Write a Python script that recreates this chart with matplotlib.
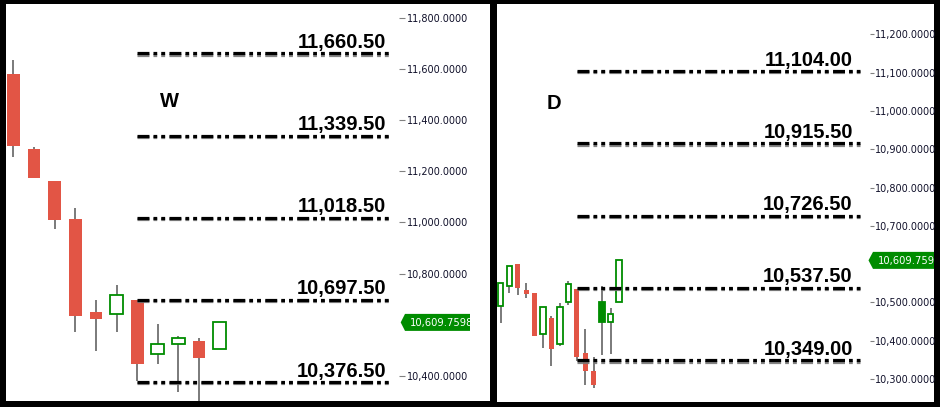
import matplotlib
matplotlib.use("Agg")
import matplotlib.pyplot as plt
from matplotlib.patches import Rectangle, Polygon
import matplotlib.patheffects as pe
import matplotlib.transforms as mtransforms

# ---------------- data ----------------
W_open  = [11580, 11287, 11162, 11014, 10650, 10641, 10697, 10485, 10524, 10537, 10505]
W_high  = [11635, 11295, 11162, 11057, 10697, 10756, 10697, 10604, 10557, 10548, 10610]
W_low   = [11255, 11175, 10976, 10573, 10499, 10573, 10380, 10448, 10339, 10290, 10505]
W_close = [11300, 11175, 11011, 10636, 10624, 10716, 10448, 10525, 10548, 10472, 10609.76]
W_solid = []

D_open  = [10490, 10542, 10600, 10532, 10525, 10418, 10459, 10391, 10500, 10535, 10368, 10321, 10450, 10448, 10500]
D_high  = [10550, 10594, 10600, 10551, 10525, 10487, 10464, 10498, 10556, 10535, 10430, 10357, 10544, 10485, 10610]
D_low   = [10447, 10525, 10520, 10512, 10413, 10382, 10335, 10386, 10493, 10348, 10285, 10277, 10363, 10366, 10500]
D_close = [10550, 10594, 10538, 10523, 10413, 10487, 10379, 10487, 10547, 10358, 10322, 10285, 10501, 10469, 10609.76]
D_solid = [12]

W_levels = [11660.50, 11339.50, 11018.50, 10697.50, 10376.50]
D_levels = [11104.00, 10915.50, 10726.50, 10537.50, 10349.00]
W_level_start = 6
D_level_start = 9

W_ticks = [10400, 10800, 11000, 11200, 11400, 11600, 11800]
D_ticks = [10300, 10400, 10500, 10700, 10800, 10900, 11000, 11100, 11200]

current_price = 10609.7598
W_title = "W"
D_title = "D"

# ---------------- style ----------------
RED = "#E25545"
GREEN = "#008C00"
WICK = "#707070"
TICKC = "#10102a"
plt.rcParams["lines.scale_dashes"] = False

W_PX, H_PX = 940, 407
fig = plt.figure(figsize=(W_PX / 100, H_PX / 100), dpi=100, facecolor="black")


def fig_rect(x0, y0, x1, y1):
    """pixel box (top-left origin) -> figure fraction [l, b, w, h]"""
    return [x0 / W_PX, 1 - y1 / H_PX, (x1 - x0) / W_PX, (y1 - y0) / H_PX]


def panel(panel_px, ax_px, xlim, ylim, o, h, l, c, solid, levels, lstart,
          ticks, title, title_pos, line_end, text_end, tick_len, tick_pad,
          tag_off, body_w):
    pr = fig_rect(*panel_px)
    bg = Rectangle((pr[0], pr[1]), pr[2], pr[3], transform=fig.transFigure,
                   facecolor="white", edgecolor="none", zorder=-5)
    fig.patches.append(bg)
    ax = fig.add_axes(fig_rect(*ax_px))
    ax.set_facecolor("none")
    ax.set_xlim(*xlim)
    ax.set_ylim(*ylim)
    for s in ax.spines.values():
        s.set_visible(False)
    ax.set_xticks([])
    ax.yaxis.tick_right()
    ax.set_yticks(ticks)
    ax.set_yticklabels([f"{t:,.4f}" for t in ticks])
    ax.tick_params(axis="y", right=True, left=False, length=tick_len,
                   width=0.8, color="#808080", pad=tick_pad,
                   labelsize=7.0, labelcolor=TICKC)
    for lab in ax.get_yticklabels():
        lab.set_fontfamily("DejaVu Sans")

    # candles
    for i in range(len(o)):
        ax.vlines(i, l[i], h[i], color=WICK, lw=1.3, zorder=2)
        lo, hi = min(o[i], c[i]), max(o[i], c[i])
        if c[i] >= o[i]:
            fc = GREEN if i in solid else "white"
            rect = Rectangle((i - body_w / 2, lo), body_w, hi - lo,
                             facecolor=fc, edgecolor=GREEN, lw=1.3, zorder=3)
        else:
            rect = Rectangle((i - body_w / 2, lo), body_w, hi - lo,
                             facecolor=RED, edgecolor="none", zorder=3)
        ax.add_patch(rect)

    # levels
    x_end = xlim[0] + line_end * (xlim[1] - xlim[0])
    blend = mtransforms.blended_transform_factory(ax.transAxes, ax.transData)
    for v in levels:
        ax.plot([lstart, x_end], [v, v], color="black", lw=2.3,
                linestyle=(0, (8.6, 2.9, 2.7, 2.9, 2.8, 3.1)),
                solid_capstyle="butt", dash_capstyle="butt", zorder=4,
                path_effects=[pe.SimpleLineShadow(offset=(0, -1.0),
                                                  shadow_color="#777777", alpha=0.9),
                              pe.Normal()])
        ax.annotate(f"{v:,.2f}", xy=(text_end, v), xycoords=blend,
                    xytext=(0, 4), textcoords="offset points",
                    ha="right", va="baseline", fontsize=14.5,
                    fontweight="bold", family="Liberation Sans", color="black",
                    zorder=5)
    ax.text(title_pos[0], title_pos[1], title, transform=ax.transAxes,
            ha="left", va="baseline", fontsize=14.5, fontweight="bold",
            family="Liberation Sans", color="black")

    # current price tag (pixel offsets from the axis edge at the price)
    tip, box_l, box_r, half, txt = tag_off
    trans = mtransforms.Affine2D().scale(1.0) + \
        mtransforms.ScaledTranslation(1.0, current_price, blend)
    clipbox = mtransforms.TransformedBbox(
        mtransforms.Bbox.from_bounds(*pr), fig.transFigure)
    poly = Polygon([(tip, 0), (box_l, half), (box_r, half),
                    (box_r, -half), (box_l, -half)], closed=True,
                   facecolor=GREEN, edgecolor="none", transform=trans,
                   zorder=6)
    ax.add_artist(poly)
    poly.set_clip_path(None)
    poly.set_clip_box(clipbox)
    poly.set_clip_on(True)
    t = ax.annotate(f"{current_price:,.4f}", xy=(1.0, current_price),
                    xycoords=blend, xytext=(txt * 0.72, -0.3),
                    textcoords="offset points", ha="left", va="center",
                    fontsize=7.2, family="DejaVu Sans", color="white",
                    zorder=7, annotation_clip=False)
    t.set_clip_path(None)
    t.set_clip_box(clipbox)
    t.set_clip_on(True)
    return ax


panel(panel_px=(6, 4, 490, 401), ax_px=(6, 4, 399, 401),
      xlim=(-0.364, 18.71), ylim=(10302.7, 11853.5),
      o=W_open, h=W_high, l=W_low, c=W_close, solid=W_solid,
      levels=W_levels, lstart=W_level_start, ticks=W_ticks,
      title=W_title, title_pos=(0.392, 0.741),
      line_end=0.977, text_end=0.967, tick_len=4.3, tick_pad=1.2,
      tag_off=(1.7, 6.0, 71.0, 8.5, 11.0), body_w=0.62)

panel(panel_px=(497, 4, 934, 402), ax_px=(497, 4, 870, 402),
      xlim=(-0.45, 43.74), ylim=(10240.0, 11279.1),
      o=D_open, h=D_high, l=D_low, c=D_close, solid=D_solid,
      levels=D_levels, lstart=D_level_start, ticks=D_ticks,
      title=D_title, title_pos=(0.132, 0.736),
      line_end=0.973, text_end=0.954, tick_len=2.6, tick_pad=0.8,
      tag_off=(-1.5, 3.0, 80.0, 8.5, 7.7), body_w=0.62)

fig.savefig("out.png", dpi=100, facecolor="black")
